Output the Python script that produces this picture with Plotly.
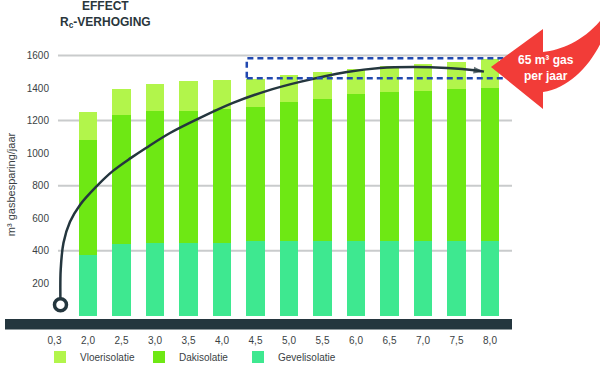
import plotly.graph_objects as go

# ---------------- data ----------------
categories = ["0,3", "2,0", "2,5", "3,0", "3,5", "4,0", "4,5", "5,0",
              "5,5", "6,0", "6,5", "7,0", "7,5", "8,0"]
gevelisolatie = [375, 440, 451, 451, 451, 461, 461, 460, 460, 460, 460, 460, 460]
dakisolatie = [706, 793, 807, 807, 819, 824, 855, 873, 902, 913, 923, 933, 943]
vloerisolatie = [172, 162, 167, 187, 178, 173, 165, 168, 154, 163, 166, 169, 176]
y_ticks = [200, 400, 600, 800, 1000, 1200, 1400, 1600]
grid_values = [400, 800, 1200, 1600]

# decorative growth arc (category-index units, m3 units); last point = arrow tip
arc_x = [0.179, 0.185, 0.269, 0.463, 0.761, 1.269, 1.746, 2.284, 2.731, 3.448,
         4.343, 5.328, 6.343, 7.328, 8.731, 9.716, 10.70, 11.716, 12.6, 12.82]
arc_y = [68, 283, 449, 578, 682, 799, 891, 971, 1032, 1124,
         1217, 1309, 1383, 1438, 1499, 1524, 1530, 1524, 1508, 1501]
box_x = (5.74, 13.45)
box_y = (1460, 1583)

# ---------------- style ----------------
FONT = "Liberation Sans"
DARK = "#24363e"
TXT = "#3a3f44"
C_VLOER = "#b2f54b"
C_DAK = "#6ee814"
C_GEVEL = "#3ee890"
RED = "#f23c38"

W, H = 600, 367
ML, MR, MT, MB = 50, 88, 36, 34
PW, PH = W - ML - MR, H - MT - MB


def fx(px):
    return (px - ML) / PW


def fy(py):
    return (H - MB - py) / PH


bar_x = list(range(1, len(categories)))
tick_pos = list(range(len(categories)))

fig = go.Figure()
fig.add_trace(go.Bar(x=bar_x, y=gevelisolatie, name="Gevelisolatie",
                     marker=dict(color=C_GEVEL, line=dict(width=0)), width=0.55))
fig.add_trace(go.Bar(x=bar_x, y=dakisolatie, name="Dakisolatie",
                     marker=dict(color=C_DAK, line=dict(width=0)), width=0.55))
fig.add_trace(go.Bar(x=bar_x, y=vloerisolatie, name="Vloerisolatie",
                     marker=dict(color=C_VLOER, line=dict(width=0)), width=0.55))

n = len(arc_x)
fig.add_trace(go.Scatter(
    x=arc_x, y=arc_y, mode="lines+markers", showlegend=False,
    line=dict(color=DARK, width=2.5, shape="spline", smoothing=1.0),
    marker=dict(symbol="arrow", angleref="previous", color=DARK,
                size=[0] * (n - 1) + [11], line=dict(width=0)),
    hoverinfo="skip"))
fig.add_trace(go.Scatter(x=[arc_x[0]], y=[arc_y[0]], mode="markers", showlegend=False,
                         marker=dict(symbol="circle", size=12, color="white",
                                     line=dict(color=DARK, width=3.5)),
                         hoverinfo="skip"))

shapes = []
for g in grid_values:
    shapes.append(dict(type="line", xref="x", yref="y", x0=0.104, x1=13.657, y0=g, y1=g,
                       line=dict(color="#c9cbcc", width=2), layer="below"))
# dark baseline band
shapes.append(dict(type="rect", xref="paper", yref="paper",
                   x0=fx(5), x1=fx(512), y0=fy(329.5), y1=fy(319),
                   fillcolor=DARK, line=dict(width=0)))
# dashed highlight box
shapes.append(dict(type="rect", xref="x", yref="y", x0=box_x[0], x1=box_x[1],
                   y0=box_y[0], y1=box_y[1],
                   line=dict(color="#2148b0", width=2.5, dash="6px,4px"), layer="above"))
# red callout arrow
path = "M {:.4f},{:.4f} L {:.4f},{:.4f} L {:.4f},{:.4f} ".format(
    fx(491), fy(67), fx(543), fy(29), fx(543), fy(52))
path += "C {:.4f},{:.4f} {:.4f},{:.4f} {:.4f},{:.4f} ".format(
    fx(562), fy(50), fx(586), fy(40), fx(604), fy(16))
path += "L {:.4f},{:.4f} ".format(fx(604), fy(36))
path += "C {:.4f},{:.4f} {:.4f},{:.4f} {:.4f},{:.4f} ".format(
    fx(592), fy(64), fx(570), fy(88), fx(543), fy(92))
path += "L {:.4f},{:.4f} Z".format(fx(543), fy(109))
shapes.append(dict(type="path", xref="paper", yref="paper", path=path,
                   fillcolor=RED, line=dict(width=0), layer="above"))

annotations = [
    dict(x=fx(105), y=fy(14.5), xref="paper", yref="paper",
         text="<b>EFFECT<br>R<sub>c</sub>-VERHOGING</b>",
         showarrow=False, xanchor="center", yanchor="middle", align="center",
         font=dict(family=FONT, size=12, color="#2a363c")),
    dict(x=fx(546), y=fy(68), xref="paper", yref="paper",
         text="<b>65 m³ gas<br>per jaar</b>",
         showarrow=False, xanchor="center", yanchor="middle", align="center",
         font=dict(family=FONT, size=12, color="white")),
]

fig.update_layout(
    width=W, height=H,
    margin=dict(l=ML, r=MR, t=MT, b=MB, pad=0, autoexpand=False),
    paper_bgcolor="white", plot_bgcolor="white",
    barmode="stack",
    font=dict(family=FONT, size=10, color=TXT),
    shapes=shapes, annotations=annotations,
    showlegend=True,
    legend=dict(orientation="h", x=fx(40), y=fy(357), xanchor="left", yanchor="middle",
                traceorder="reversed", entrywidth=54, entrywidthmode="pixels",
                font=dict(family=FONT, size=10, color=TXT), bgcolor="rgba(0,0,0,0)"),
    xaxis=dict(range=[-0.134, 13.657], tickmode="array", tickvals=tick_pos,
               ticktext=categories, showgrid=False, zeroline=False, showline=False,
               ticks="", tickfont=dict(size=10, color=TXT), fixedrange=True),
    yaxis=dict(range=[-105, 1720], tickmode="array", tickvals=y_ticks,
               showgrid=False, zeroline=False, showline=False, ticks="",
               tickfont=dict(size=10, color=TXT), fixedrange=True,
               title=dict(text="m³ gasbesparing/jaar", standoff=8,
                          font=dict(size=11, color=TXT))),
)

fig.write_html("out.html", config={"displayModeBar": False, "staticPlot": True},
               post_script="document.body.style.margin='0';document.body.style.overflow='hidden';")
